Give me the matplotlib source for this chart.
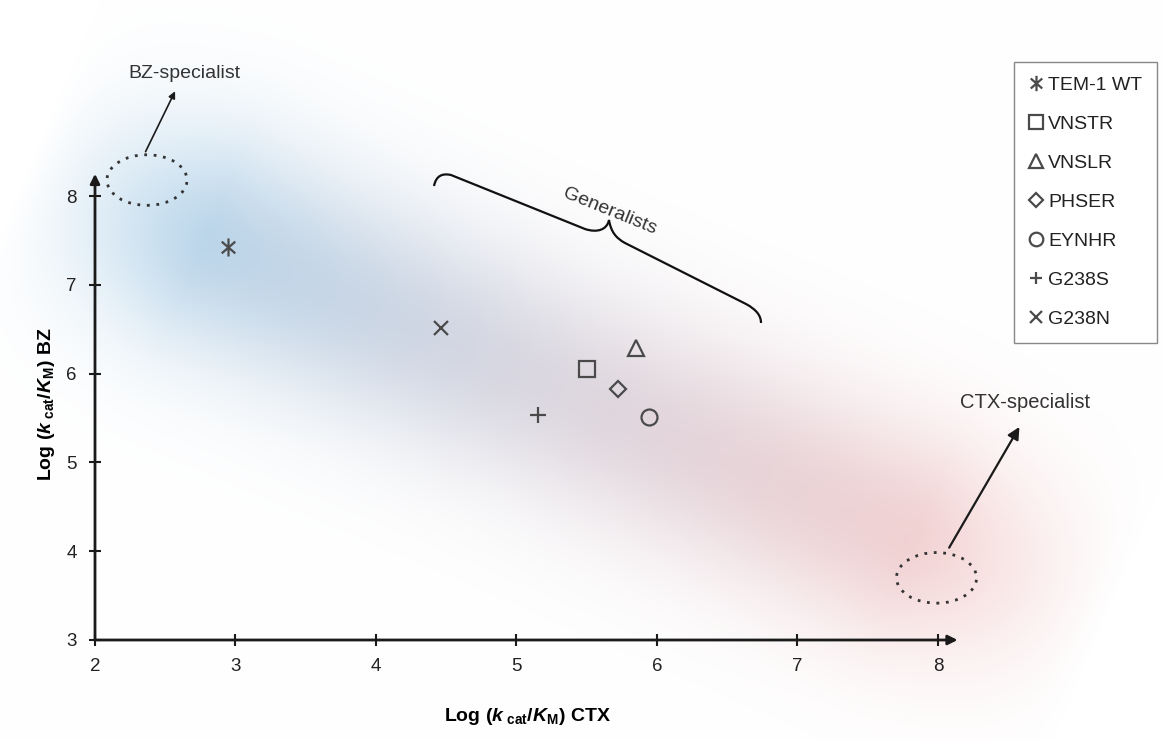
import numpy as np
import matplotlib
matplotlib.use("Agg")
import matplotlib.pyplot as plt
from matplotlib.path import Path
from matplotlib.patches import PathPatch, Ellipse
from matplotlib.transforms import Affine2D

plt.rcParams['font.family'] = ['Liberation Sans', 'DejaVu Sans']
plt.rcParams['mathtext.fontset'] = 'custom'
plt.rcParams['mathtext.rm'] = 'Liberation Sans:bold'
plt.rcParams['mathtext.it'] = 'Liberation Sans:italic:bold'

# data
variants = ['TEM-1 WT', 'VNSTR', 'VNSLR', 'PHSER', 'EYNHR', 'G238S', 'G238N']
ctx = [2.95, 5.50, 5.85, 5.72, 5.94, 5.15, 4.46]
bz = [7.43, 6.05, 6.29, 5.83, 5.51, 5.53, 6.51]
xticks = [2, 3, 4, 5, 6, 7, 8]
yticks = [3, 4, 5, 6, 7, 8]

star = Path([(0, -1), (0, 1), (-0.75, -0.65), (0.75, 0.65), (-0.75, 0.65), (0.75, -0.65)],
            [Path.MOVETO, Path.LINETO, Path.MOVETO, Path.LINETO, Path.MOVETO, Path.LINETO])
markers = [star, 's', '^', 'D', 'o', '+', 'x']
msizes = [13, 11.5, 11.5, 8, 11.5, 11, 10]
mcol = '#4a4a4a'

W, H = 1163, 740
fig = plt.figure(figsize=(W / 100, H / 100), dpi=100)

# background band (blue -> red)
bg = fig.add_axes([0, 0, 1, 1], zorder=0)
yy, xx = np.mgrid[0:H, 0:W].astype(float)
A = np.array([165.0, 222.0]); B = np.array([960.0, 560.0])
d = B - A; L = np.hypot(*d); u = d / L; n = np.array([-u[1], u[0]])
t = ((xx - A[0]) * u[0] + (yy - A[1]) * u[1]) / L
s = (xx - A[0]) * n[0] + (yy - A[1]) * n[1]
perp = np.exp(-(np.abs(s) / 112) ** 2.0)
ends = np.clip((t + 0.17) / 0.22, 0, 1) * np.clip((1.18 - t) / 0.24, 0, 1)
alpha = 0.92 * perp * ends
blue = np.array([178, 210, 233]) / 255
mid = np.array([218, 212, 221]) / 255
red = np.array([243, 205, 205]) / 255
tc = np.clip(t, 0, 1)[..., None]
w1 = np.clip(1 - tc / 0.5, 0, 1)
w3 = np.clip((tc - 0.5) / 0.5, 0, 1)
col = w1 * blue + (1 - w1 - w3) * mid + w3 * red
img = 1 - alpha[..., None] * (1 - col)
bg.imshow(img, extent=[0, W, H, 0], aspect='auto')
bg.axis('off')

ax = fig.add_axes([95 / W, 100 / H, 864 / W, 470.6 / H], zorder=1)
ax.patch.set_alpha(0)
ax.set_xlim(2, 8.15)
ax.set_ylim(3, 8.3)
for sp in ax.spines.values():
    sp.set_visible(False)

# axes as arrows
ax.annotate('', xy=(8.14, 3), xytext=(2, 3), annotation_clip=False,
            arrowprops=dict(arrowstyle='-|>', lw=2, color='#1a1a1a', mutation_scale=14, shrinkA=0, shrinkB=0))
ax.annotate('', xy=(2, 8.25), xytext=(2, 3), annotation_clip=False,
            arrowprops=dict(arrowstyle='-|>', lw=2, color='#1a1a1a', mutation_scale=14, shrinkA=0, shrinkB=0))
ax.set_xticks(xticks)
ax.set_yticks(yticks)
ax.tick_params(direction='inout', length=8, width=1.5, color='#1a1a1a', labelsize=13.5,
               labelcolor='#222222', pad=9)

for i in range(len(variants)):
    ax.plot(ctx[i], bz[i], linestyle='none', marker=markers[i], markersize=msizes[i],
            markerfacecolor='none', markeredgecolor=mcol, markeredgewidth=1.6, label=variants[i])

ax.set_xlabel(r'Log ($k_{\rm\ cat}$/$K_{\rm M}$) CTX', fontsize=14, fontweight='bold', labelpad=22)
ax.set_ylabel(r'Log ($k_{\rm\ cat}$/$K_{\rm M}$) BZ', fontsize=14, fontweight='bold', labelpad=7)

# specialist ellipses and arrows
for (cx, cy) in [(2.37, 8.18), (7.99, 3.70)]:
    ax.add_patch(Ellipse((cx, cy), 0.57, 0.57, fill=False, linestyle=(0, (1, 2.4)), lw=2,
                         edgecolor='#333333', clip_on=False))
ax.annotate('', xy=(2.57, 9.18), xytext=(2.36, 8.50), annotation_clip=False,
            arrowprops=dict(arrowstyle='-|>', lw=1.2, color='#1a1a1a', mutation_scale=10, shrinkA=0, shrinkB=0))
ax.annotate('', xy=(8.58, 5.40), xytext=(8.08, 4.04), annotation_clip=False,
            arrowprops=dict(arrowstyle='-|>', lw=1.6, color='#1a1a1a', mutation_scale=18, shrinkA=0, shrinkB=0))
ax.text(2.64, 9.38, 'BZ-specialist', ha='center', va='center', fontsize=14, color='#333333', clip_on=False)
ax.text(8.62, 5.68, 'CTX-specialist', ha='center', va='center', fontsize=14.5, color='#333333', clip_on=False)

# brace for generalists (figure pixel coords)
pix = Affine2D().scale(1, -1).translate(0, H)
verts = [(434, 186), (436, 176), (442, 173), (451, 175),
         (585, 229),
         (597, 233), (607, 230), (609, 220),
         (611, 232), (616, 238), (625, 243),
         (746, 304),
         (757, 310), (761, 316), (761, 323)]
codes = [Path.MOVETO, Path.CURVE4, Path.CURVE4, Path.CURVE4,
         Path.LINETO,
         Path.CURVE4, Path.CURVE4, Path.CURVE4,
         Path.CURVE4, Path.CURVE4, Path.CURVE4,
         Path.LINETO,
         Path.CURVE4, Path.CURVE4, Path.CURVE4]
fig.add_artist(PathPatch(Path(verts, codes), fill=False, lw=1.6, edgecolor='#111111', transform=pix))
fig.text(610 / W, 1 - 211 / H, 'Generalists', rotation=-22, ha='center', va='center',
         fontsize=14, color='#333333')

leg = ax.legend(loc='upper right', bbox_to_anchor=(1157 / W, 1 - 62 / H), bbox_transform=fig.transFigure,
                fancybox=False, framealpha=1, edgecolor='#888888', fontsize=14, markerscale=0.85,
                handlelength=0.7, handletextpad=0.3, labelspacing=1.1, borderpad=0.75, borderaxespad=0)
leg.get_frame().set_linewidth(1)
for txt in leg.get_texts():
    txt.set_color('#222222')

fig.savefig('out.png', dpi=100)
